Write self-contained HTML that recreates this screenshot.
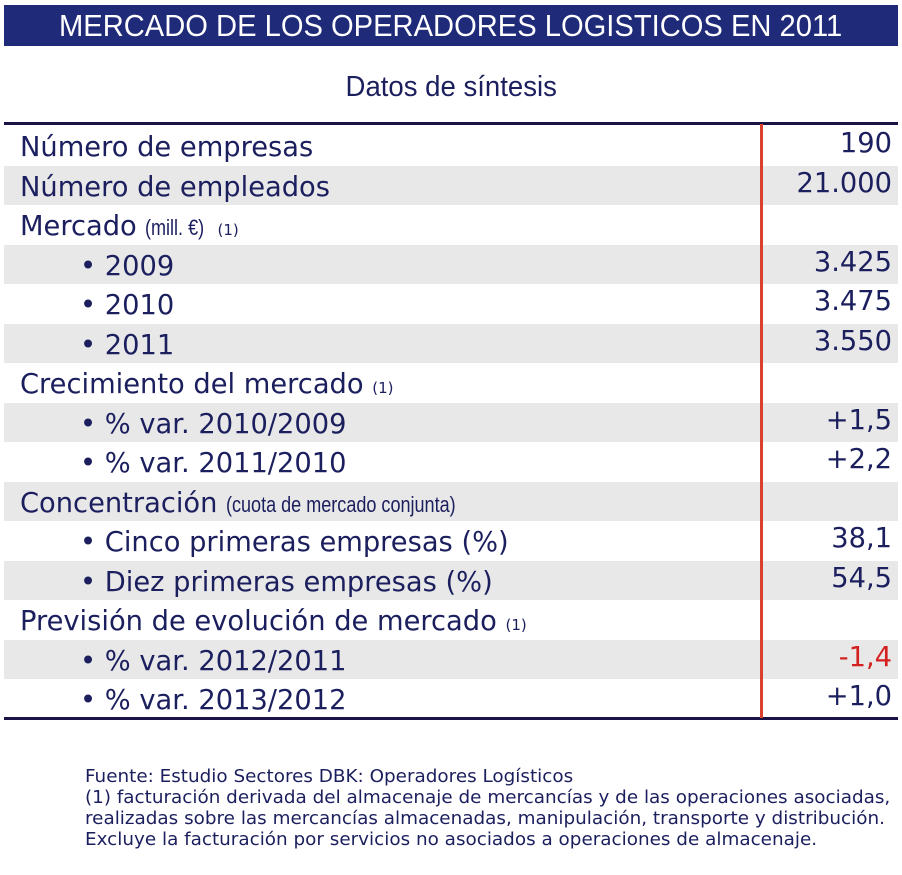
<!DOCTYPE html>
<html><head><meta charset="utf-8"><style>
body{margin:0;width:902px;height:875px;background:#fff;position:relative;overflow:hidden;font-family:"DejaVu Sans",Verdana,sans-serif;color:#1c1f5e}
#title{position:absolute;left:4px;top:5px;width:894px;height:41px;background:#1f2a78;color:#fff;font-family:"Liberation Sans",sans-serif;font-size:31px;line-height:42px;text-align:center}
#title span{display:inline-block;transform:scaleX(0.94);white-space:nowrap}
#sub{position:absolute;left:0;width:902px;top:68px;text-align:center;font-family:"Liberation Sans",sans-serif;font-size:29px;line-height:38px}
#sub span{display:inline-block;transform:scaleX(0.95)}
.row{position:absolute;left:4px;width:894px;height:39.5px;font-size:27.3px;line-height:40px}
.g{background:#e8e8e8}
.l{position:absolute;left:16px;top:2px;white-space:nowrap}
.l.i{left:76px}
.v{position:absolute;right:6px;top:-2px}
.n{font-family:"Liberation Sans",sans-serif;font-size:22px;display:inline-block;transform:scaleX(0.82);transform-origin:left}
.s{font-size:15px}
#top{position:absolute;left:4px;top:122px;width:894px;height:3px;background:#1a1446}
#bot{position:absolute;left:4px;top:717px;width:894px;height:3px;background:#1a1446}
#red{position:absolute;left:760px;top:124px;width:3px;height:594px;background:#d9402e}
#foot{position:absolute;left:85px;top:766px;font-size:18px;line-height:21px;color:#1c1f5e;white-space:nowrap;transform:scaleX(1.02);transform-origin:left}
</style></head><body>
<div id="title"><span>MERCADO DE LOS OPERADORES LOGISTICOS EN 2011</span></div>
<div id="sub"><span>Datos de síntesis</span></div>
<div class="row" style="top:126px"><span class="l">Número de empresas</span><span class="v">190</span></div>
<div class="row g" style="top:165.5px"><span class="l">Número de empleados</span><span class="v">21.000</span></div>
<div class="row" style="top:205px"><span class="l">Mercado <span class="n">(mill. €)</span><span class="s">(1)</span></span></div>
<div class="row g" style="top:244.5px"><span class="l i">• 2009</span><span class="v">3.425</span></div>
<div class="row" style="top:284px"><span class="l i">• 2010</span><span class="v">3.475</span></div>
<div class="row g" style="top:323.5px"><span class="l i">• 2011</span><span class="v">3.550</span></div>
<div class="row" style="top:363px"><span class="l">Crecimiento del mercado <span class="s">(1)</span></span></div>
<div class="row g" style="top:402.5px"><span class="l i">• % var. 2010/2009</span><span class="v">+1,5</span></div>
<div class="row" style="top:442px"><span class="l i">• % var. 2011/2010</span><span class="v">+2,2</span></div>
<div class="row g" style="top:481.5px"><span class="l">Concentración <span class="n">(cuota de mercado conjunta)</span></span></div>
<div class="row" style="top:521px"><span class="l i">• Cinco primeras empresas (%)</span><span class="v">38,1</span></div>
<div class="row g" style="top:560.5px"><span class="l i">• Diez primeras empresas (%)</span><span class="v">54,5</span></div>
<div class="row" style="top:600px"><span class="l">Previsión de evolución de mercado <span class="s">(1)</span></span></div>
<div class="row g" style="top:639.5px"><span class="l i">• % var. 2012/2011</span><span class="v" style="color:#d42020">-1,4</span></div>
<div class="row" style="top:679px"><span class="l i">• % var. 2013/2012</span><span class="v">+1,0</span></div>
<div id="top"></div><div id="bot"></div><div id="red"></div>
<div id="foot">Fuente: Estudio Sectores DBK: Operadores Logísticos<br>(1) facturación derivada del almacenaje de mercancías y de las operaciones asociadas,<br>realizadas sobre las mercancías almacenadas, manipulación, transporte y distribución.<br>Excluye la facturación por servicios no asociados a operaciones de almacenaje.</div>
</body></html>
